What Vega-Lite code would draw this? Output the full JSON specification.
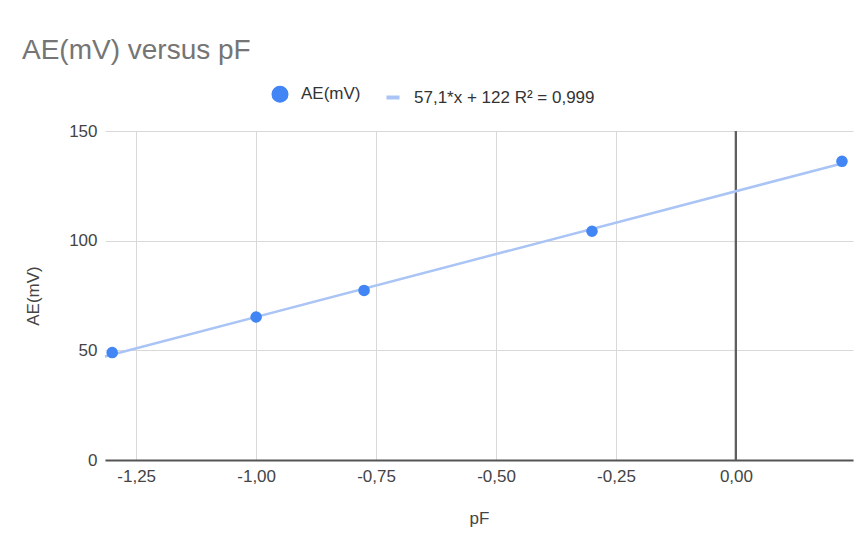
{
  "$schema": "https://vega.github.io/schema/vega-lite/v6.json",
  "autosize": {"type": "none"},
  "width": 748,
  "height": 329,
  "padding": {"left": 105, "top": 131, "right": 7, "bottom": 83},
  "background": "#ffffff",
  "config": {
    "locale": {"number": {"decimal": ",", "thousands": ".", "grouping": [3], "currency": ["", ""], "minus": "-"}},
    "font": "Liberation Sans",
    "view": {"stroke": null}
  },
  "title": {
    "text": "AE(mV) versus pF",
    "anchor": "start",
    "frame": "group",
    "dx": -83,
    "fontSize": 28,
    "fontWeight": "normal",
    "color": "#757575",
    "font": "Liberation Sans",
    "offset": 20
  },
  "data": {
    "values": [
      {"pF": -1.3, "AE": 49.0, "series": "AE(mV)"},
      {"pF": -1.0, "AE": 65.2, "series": "AE(mV)"},
      {"pF": -0.775, "AE": 77.3, "series": "AE(mV)"},
      {"pF": -0.3, "AE": 104.3, "series": "AE(mV)"},
      {"pF": 0.221, "AE": 136.2, "series": "AE(mV)"}
    ]
  },
  "encoding": {
    "x": {
      "field": "pF", "type": "quantitative",
      "scale": {"domain": [-1.315, 0.244], "nice": false, "zero": false},
      "axis": {
        "values": [-1.25, -1, -0.75, -0.5, -0.25, 0],
        "format": ".2f",
        "ticks": false,
        "labelFontSize": 17, "labelColor": "#444444", "labelPadding": 8,
        "domainColor": "#555555", "domainWidth": 2,
        "gridColor": "#d9d9d9", "gridWidth": 1,
        "title": "pF", "titleFontSize": 17, "titleFontWeight": "normal", "titleColor": "#444444", "titlePadding": 26
      }
    },
    "y": {
      "field": "AE", "type": "quantitative",
      "scale": {"domain": [0, 150], "nice": false},
      "axis": {
        "values": [0, 50, 100, 150],
        "ticks": false, "domain": false,
        "labelFontSize": 17, "labelColor": "#444444", "labelPadding": 8,
        "gridColor": "#d9d9d9", "gridWidth": 1,
        "title": "AE(mV)", "titleFontSize": 17, "titleFontWeight": "normal", "titleColor": "#444444", "titlePadding": 26
      }
    }
  },
  "layer": [
    {
      "mark": {"type": "rule", "color": "#5f5f5f", "strokeWidth": 2},
      "encoding": {"x": {"datum": 0}, "y": null}
    },
    {
      "transform": [{"regression": "AE", "on": "pF", "extent": [-1.315, 0.221]}],
      "mark": {"type": "line", "strokeWidth": 2.5},
      "encoding": {
        "color": {"datum": "57,1*x + 122 R² = 0,999"}
      }
    },
    {
      "mark": {"type": "point", "filled": true, "opacity": 1, "size": 135},
      "encoding": {
        "color": {
          "field": "series", "type": "nominal",
          "scale": {"domain": ["AE(mV)", "57,1*x + 122 R² = 0,999"], "range": ["#4285f4", "#a9c4f5"]},
          "legend": {
            "orient": "none", "legendX": 166, "legendY": -46,
            "direction": "horizontal", "title": null,
            "labelFontSize": 17, "labelColor": "#333333", "labelFont": "Liberation Sans", "labelLimit": 400,
            "symbolSize": 170, "columnPadding": 17, "labelOffset": 12,
            "symbolStrokeWidth": 4, "symbolOpacity": 1,
            "encode": {
              "symbols": {
                "update": {
                  "shape": {"signal": "datum.value === 'AE(mV)' ? 'circle' : 'stroke'"},
                  "fill": {"signal": "datum.value === 'AE(mV)' ? '#4285f4' : 'transparent'"},
                  "stroke": {"signal": "datum.value === 'AE(mV)' ? 'transparent' : '#a9c4f5'"},
                  "strokeWidth": {"value": 4},
                  "opacity": {"value": 1}
                }
              }
            }
          }
        }
      }
    }
  ]
}
